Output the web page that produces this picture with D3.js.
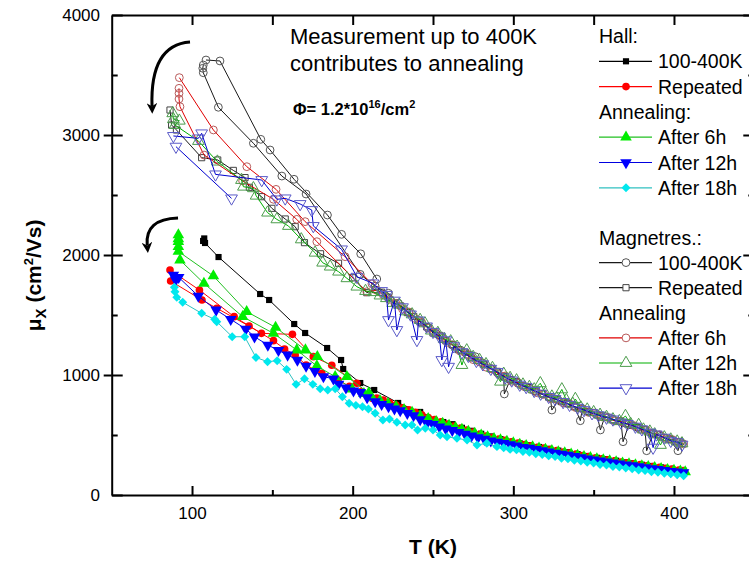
<!DOCTYPE html>
<html>
<head>
<meta charset="utf-8">
<script src="https://d3js.org/d3.v7.min.js"></script>
<style>
  body { margin: 0; background: #fff; }
  svg { display: block; font-family: "Liberation Sans", Arial, sans-serif; }
  .axis path, .axis line { stroke: #000; stroke-width: 2; }
  .axis text { font-size: 17px; fill: #000; font-family: "Liberation Sans", Arial, sans-serif; }
  .legend text { font-size: 19.5px; fill: #000; }
</style>
</head>
<body>
<div id="chart"></div>
<script>
// ---- data: [T (K), mobility (cm2/Vs)], null = break between sweeps ----
var hallRun = [[106.9,2117],[107.6,2138],[108.1,2100],[116.5,1983],[142.4,1675],[148,1625],[163.6,1425],[170.4,1350],[184.1,1225],[192.8,1125],[194.1,1050],[204.7,933],[213.4,875],[228.3,767],[242,692],[256.4,608],[262,590],[268,560],[274,535],[280,510],[286,488],[292,466],[298,444],[304,430],[310,414],[316,400],[322,385],[328,370],[334,356],[340,340],[346,325],[352,310],[358,298],[364,286],[370,272],[374,264],[380,252],[386,242],[392,230],[398,218],[404,208]];

var hallRep = [[86.3,1875],[104.6,1708],[126.2,1486],[143.2,1347],[162.5,1339],[175.5,1153],[187,1081],[202.6,931],[212,806], null,
  [86.7,1783],[106.2,1625],[115.4,1556],[135.5,1408],[150.7,1286],[157.6,1217],[164.2,1167],[171,1083],[180.8,1014],[190.9,958],[198,905],[205,860],[210,832],[215,808],[219,790],[223,768],[227,750],[231,726],[235,710],[239,688],[243,668],[247,645],[251,628],[255,610],[259,590],[263,574],[267,556],[271,540],[275,525],[279,506],[283,492],[287,478],[291,466],[295,455],[299,444],[303,432],[307,421],[311,410],[315,398],[319,390],[323,378],[327,370],[331,358],[335,350],[339,340],[343,328],[347,320],[351,308],[355,302],[359,293],[363,285],[367,275],[371,268],[375,260],[379,254],[383,244],[387,237],[391,230],[395,222],[399,216],[403,208],[406,204]];

var hallAnn6 = [[91.5,2167],[91.5,2135],[91.5,2111],[91.5,2069],[91.5,2030],[113.3,1825],[134,1528],[152,1397],[170.6,1208],[178,1153],[196.4,986],[210,850], null,
  [92.5,1958],[107.4,1764],[131.5,1486],[150.7,1347],[165.2,1208],[177.7,1075],[189.1,986],[199.7,881],[207,845],[212,812],[217,786],[222,762],[227,736],[232,710],[237,688],[242,660],[247,636],[252,612],[256,596],[260,580],[264,562],[268,546],[272,530],[276,514],[280,498],[284,484],[288,470],[292,458],[296,446],[300,434],[304,422],[308,411],[312,400],[316,390],[320,380],[324,369],[328,359],[332,350],[336,340],[340,330],[344,320],[348,310],[352,301],[356,292],[360,284],[364,275],[368,266],[372,258],[376,250],[380,243],[384,235],[388,227],[392,220],[396,212],[400,204],[404,198],[407,193]];

var hallAnn12 = [[88.4,1833],[89.8,1792],[91.7,1814],[103.9,1658],[115,1542],[124.1,1464],[133.5,1383],[138.9,1319],[147.2,1250],[153.8,1205],[159.5,1167],[165.6,1125],[171,1075],[176.5,1030],[181.8,986],[188,969],[191.2,925],[195.8,894],[200.5,869],[204.7,856],[209,812],[214,778],[218,755],[222.3,736],[226,718],[229.6,703],[234,680],[237.9,661],[242,628],[246.2,597],[250,588],[254,568],[258,552],[262,538],[266,522],[270,508],[274,494],[278,478],[282,465],[286,452],[290,440],[294,430],[298,420],[302,410],[306,398],[310,390],[314,380],[318,370],[322,360],[326,350],[330,341],[334,332],[338,322],[342,312],[346,302],[350,294],[354,284],[358,276],[362,268],[366,260],[370,252],[374,245],[378,236],[382,229],[386,220],[390,213],[394,206],[398,198],[402,192],[406,186]];

var hallAnn18 = [[89,1731],[89.4,1694],[90.5,1647],[94.2,1606],[106,1514],[114.1,1464],[115.4,1444],[125,1319],[132.8,1319],[139.8,1146],[147,1111],[153,1119],[158.9,1047],[164.8,922],[170,969],[175.2,922],[179.8,886],[184.5,875],[189.1,886],[193.6,819],[197.8,764],[202,747],[206.1,736],[209.8,717],[214,681],[218.8,625],[222.9,633],[227.5,606],[232.7,583],[236.9,583],[240.4,542],[245.2,556],[250,542],[254.5,500],[258.7,486],[264.9,472],[271.2,458],[277.4,417],[283.5,431],[289.8,403],[294,394],[298,380],[302,376],[306,362],[310,356],[314,343],[318,338],[322,326],[326,320],[330,307],[334,302],[338,290],[342,284],[346,272],[350,266],[354,254],[358,250],[362,238],[366,234],[370,224],[374,219],[378,208],[382,204],[386,194],[390,190],[394,181],[398,176],[402,168],[406,160]];

var magRun = [[108.7,3625],[117.4,3617],[142.8,2964],[148.6,2875],[163.5,2631],[184.3,2333],[193.1,2172],[205,2010],[215,1800], null,
  [107,3583],[106.7,3556],[107,3519],[116.4,3231],[138.2,2931],[155.9,2658],[171,2508],[204.7,1839],[214,1740],[222.3,1681],[228.5,1597],[235,1520],[241,1455],[247,1395],[252,1345],[256,1306],[262,1250],[267,1208],[272,1170],[276.3,1153],[281,1100],[286,1055],[290,1020],[294,985],[294.4,842],[298,960],[303,930],[308,900],[313,870],[318,840],[323,815],[324,708],[328,790],[333,765],[338,740],[341.7,619],[343,720],[347,695],[352,672],[354.2,542],[357,655],[362,632],[367,612],[368.3,444],[372,590],[377,565],[382,540],[383,369],[387,515],[392,490],[397,468],[402.5,369],[404,440]];

var magRep = [[86.3,3208],[87.3,3083],[90.3,3042],[106,2811],[116,2792],[125.7,2705],[133,2645],[135.7,2564],[143.3,2486],[149.7,2389],[158,2300],[164.2,2236],[170,2103],[180,2010],[191.2,1931],[200,1810],[208.8,1686],[214,1712],[218,1690],[222,1648],[226,1600],[230,1575],[234,1520],[238,1488],[242,1440],[246,1402],[250,1350],[254,1330],[258,1285],[262,1255],[266,1210],[270,1190],[274,1142],[278,1120],[282,1085],[286,1050],[290,1030],[294,990],[298,962],[302,945],[306,910],[310,895],[314,860],[318,845],[322,815],[326,800],[330,778],[334,762],[338,735],[342,722],[346,695],[350,688],[354,660],[358,648],[362,625],[366,618],[370,598],[374,580],[378,560],[382,545],[386,515],[390,505],[394,478],[398,462],[402,445],[405,430]];

var magAnn6 = [[92.1,3478],[113.3,3042],[134.1,2736],[152.3,2547],[170.4,2278],[195.3,1986],[212,1760], null,
  [91.9,3389],[91.9,3347],[91.9,3300],[92.5,3236],[107.5,2833],[131.5,2617],[150.7,2464],[165.2,2297],[177.7,2111],[208.8,1694],[215,1705],[219,1668],[223,1630],[227,1595],[231,1550],[235,1525],[239,1470],[243,1438],[247,1390],[251,1352],[255,1320],[259,1272],[263,1245],[267,1198],[271,1172],[275,1128],[279,1108],[283,1065],[287,1048],[291,1005],[295,992],[299,948],[303,935],[307,902],[311,880],[315,852],[319,838],[323,805],[327,798],[331,768],[335,760],[339,728],[343,718],[347,688],[351,680],[355,652],[359,645],[363,618],[367,612],[371,590],[375,578],[379,548],[383,540],[387,510],[391,500],[395,470],[399,462],[403,440],[406,425]];

var magAnn12 = [[88,3181],[88.4,3131],[92.1,3119],[89.4,3083],[104,2950],[115.8,2778],[130.8,2625],[132,2569],[138.2,2556],[139.9,2494],[147,2353],[152.8,2297],[160,2242],[168,2130],[176.6,2019],[181.3,1936],[186,1903],[191.2,1861],[196.4,1806],[202.6,1736],[208,1700],[213,1690],[217,1662],[221,1640],[225,1600],[229,1585],[233,1530],[237,1505],[242,1458],[245,1430],[249,1370],[253,1350],[257,1300],[261,1280],[265,1235],[268,1083],[271,1205],[275,1150],[279,1125],[283,1090],[287,1058],[292,944],[294,1010],[298,975],[302,955],[306,920],[310,900],[313,880],[316.8,931],[320,845],[324,820],[327,805],[330.2,880],[333,790],[337,760],[338.6,800],[342,728],[346,712],[350,690],[354,668],[358,650],[362,630],[366,615],[369.8,658],[373,592],[378,583],[381,545],[385,528],[388,505],[391.6,417],[394,480],[398,462],[402,445],[405,430]];

var magAnn18 = [[88.4,2992],[103.9,2972],[106,3014],[114.6,2672],[143.4,2625],[152.8,2464],[158,2472],[167.3,2425],[174.5,2375],[175.5,2242],[193.1,2047],[202.6,1819],[212.6,1764],[218,1700],[221,1668],[222.3,1458],[226,1620],[227.5,1375],[231,1565],[236,1505],[240,1292],[241,1455],[246,1405],[250,1360],[254,1320],[255.5,1125],[258,1290],[259.7,1069],[263,1240],[268,1190],[272,1160],[277,1118],[281,1090],[286,1052],[290,1025],[295,980],[299,955],[304,920],[308,900],[313,868],[317,845],[322,818],[326,800],[331,775],[335,752],[340,728],[344,708],[349,682],[353,665],[358,645],[362,630],[367,605],[371,592],[376,570],[380,548],[385,520],[387,395],[389,505],[394,478],[398,452],[402,440],[405,420], null,
  [90,2903],[124.6,2472]];

// curved annotation arrows: start, control, end (data units)
var arrowUpper = [[98.75,3775],[73.8,3750],[75.1,3240]];
var arrowLower = [[91.3,2308],[70.5,2300],[72.1,2080]];

var xMajor = [100, 200, 300, 400];
var xMinor = [150, 250, 350];
var xTop = [100, 150, 200, 250, 300, 350, 400];
var yMajor = [0, 1000, 2000, 3000, 4000];
var yMinor = [500, 1500, 2500, 3500];

var hallLabels = ["100-400K", "Repeated", "After 6h", "After 12h", "After 18h"];
var magLabels = ["100-400K", "Repeated", "After 6h", "After 12h", "After 18h"];

// ---- chart ----
var width = 749, height = 563;
var x = d3.scaleLinear().domain([50, 450]).range([111.7, 754.3]);
var y = d3.scaleLinear().domain([0, 4000]).range([495, 15]);

var svg = d3.select("#chart").append("svg")
  .attr("width", width)
  .attr("height", height);

// axes
svg.append("g").attr("class", "axis")
  .attr("transform", "translate(0,495)")
  .call(d3.axisBottom(x).tickValues(xMajor).tickSize(-9).tickSizeOuter(0).tickPadding(12).tickFormat(d3.format("d")));
svg.append("g").attr("class", "axis")
  .attr("transform", "translate(0,495)")
  .call(d3.axisBottom(x).tickValues(xMinor).tickSize(-5).tickSizeOuter(0).tickFormat(""))
  .select(".domain").remove();
svg.append("g").attr("class", "axis")
  .attr("transform", "translate(0,15)")
  .call(d3.axisTop(x).tickValues(xTop).tickSize(-10).tickSizeOuter(0).tickFormat(""));

svg.append("g").attr("class", "axis")
  .attr("transform", "translate(" + x(50) + ",0)")
  .call(d3.axisLeft(y).tickValues(yMajor).tickSize(-11).tickSizeOuter(0).tickPadding(11.7).tickFormat(d3.format("d")));
svg.append("g").attr("class", "axis")
  .attr("transform", "translate(" + x(50) + ",0)")
  .call(d3.axisLeft(y).tickValues([1000, 2000, 3000]).tickSize(8).tickFormat(""))
  .select(".domain").remove();
svg.append("g").attr("class", "axis")
  .attr("transform", "translate(" + x(50) + ",0)")
  .call(d3.axisLeft(y).tickValues(yMinor).tickSize(-6).tickFormat(""))
  .select(".domain").remove();

svg.append("g").attr("class", "axis")
  .attr("transform", "translate(" + x(450) + ",0)")
  .call(d3.axisRight(y).tickValues(yMajor).tickSize(-11).tickSizeOuter(0).tickFormat(""));
svg.append("g").attr("class", "axis")
  .attr("transform", "translate(" + x(450) + ",0)")
  .call(d3.axisRight(y).tickValues(yMinor).tickSize(-6).tickFormat(""))
  .select(".domain").remove();

// axis titles
svg.append("text")
  .attr("x", x(250))
  .attr("y", 554)
  .attr("text-anchor", "middle")
  .style("font-size", "21px")
  .style("font-weight", "bold")
  .text("T (K)");

var yTitle = svg.append("text")
  .attr("transform", "translate(41," + y(1830) + ") rotate(-90)")
  .attr("text-anchor", "middle")
  .style("font-size", "21px")
  .style("font-weight", "bold");
yTitle.append("tspan").text("\u03bc");
yTitle.append("tspan").attr("dy", 5).style("font-size", "15px").text("X");
yTitle.append("tspan").attr("dy", -5).text(" (cm");
yTitle.append("tspan").attr("dy", -8).style("font-size", "13px").text("2");
yTitle.append("tspan").attr("dy", 8).text("/Vs)");

// series styles
var tri = d3.symbolTriangle;
var series = [
  { data: magRun,   line: "#1a1a1a", sym: d3.symbolCircle, size: 48, fill: "none", stroke: "#555", rot: 0 },
  { data: magRep,   line: "#1a1a1a", sym: d3.symbolSquare, size: 38, fill: "none", stroke: "#444", rot: 0 },
  { data: magAnn6,  line: "#e00000", sym: d3.symbolCircle, size: 48, fill: "none", stroke: "#b85a5a", rot: 0 },
  { data: magAnn12, line: "#00b000", sym: tri,            size: 60, fill: "none", stroke: "#4c9c4c", rot: 0 },
  { data: magAnn18, line: "#0000d0", sym: tri,            size: 60, fill: "none", stroke: "#5a5ac8", rot: 180 },
  { data: hallRun,  line: "#000",    sym: d3.symbolSquare, size: 38, fill: "#000", stroke: "none", rot: 0 },
  { data: hallRep,  line: "#ff0000", sym: d3.symbolCircle, size: 46, fill: "#ff0000", stroke: "none", rot: 0 },
  { data: hallAnn6, line: "#22c022", sym: tri,            size: 58, fill: "#00ee00", stroke: "none", rot: 0 },
  { data: hallAnn12,line: "#0000e0", sym: tri,            size: 58, fill: "#0000ff", stroke: "none", rot: 180 },
  { data: hallAnn18,line: "#30c0c0", sym: d3.symbolSquare, size: 40, fill: "#00e8ee", stroke: "none", rot: 45 }
];

var line = d3.line()
  .defined(function(d) { return d != null; })
  .x(function(d) { return x(d[0]); })
  .y(function(d) { return y(d[1]); });

series.forEach(function(s) {
  var g = svg.append("g");
  g.append("path")
    .attr("d", line(s.data))
    .attr("fill", "none")
    .attr("stroke", s.line)
    .attr("stroke-width", 1);
  g.selectAll("path.pt")
    .data(s.data.filter(function(d) { return d != null; }))
    .enter().append("path")
    .attr("class", "pt")
    .attr("d", d3.symbol().type(s.sym).size(s.size))
    .attr("transform", function(d) { return "translate(" + x(d[0]) + "," + y(d[1]) + ") rotate(" + s.rot + ")"; })
    .attr("fill", s.fill)
    .attr("stroke", s.stroke)
    .attr("stroke-width", 1);
});

// arrows
var defs = svg.append("defs");
defs.append("marker")
  .attr("id", "arrowhead")
  .attr("viewBox", "0 -5 10 10")
  .attr("refX", 3)
  .attr("refY", 0)
  .attr("markerWidth", 3.6)
  .attr("markerHeight", 3.6)
  .attr("orient", "auto")
  .append("path")
  .attr("d", "M0,-5L10,0L0,5L3,0Z")
  .attr("fill", "#000");

[arrowUpper, arrowLower].forEach(function(a) {
  svg.append("path")
    .attr("d", "M" + x(a[0][0]) + "," + y(a[0][1]) + "Q" + x(a[1][0]) + "," + y(a[1][1]) + " " + x(a[2][0]) + "," + y(a[2][1]))
    .attr("fill", "none")
    .attr("stroke", "#000")
    .attr("stroke-width", 3)
    .attr("marker-end", "url(#arrowhead)");
});

// annotation text
svg.append("text").attr("x", 290).attr("y", 44)
  .style("font-size", "22px").text("Measurement up to 400K");
svg.append("text").attr("x", 290).attr("y", 71)
  .style("font-size", "22px").text("contributes to annealing");

var phi = svg.append("text").attr("x", 293).attr("y", 115)
  .style("font-size", "16.5px").style("font-weight", "bold");
phi.append("tspan").text("\u03a6= 1.2*10");
phi.append("tspan").attr("dy", -7).style("font-size", "11px").text("16");
phi.append("tspan").attr("dy", 7).text("/cm");
phi.append("tspan").attr("dy", -7).style("font-size", "11px").text("2");

// legends
function drawLegend(top, step, header1, header2, labels, styles) {
  var lg = svg.append("g").attr("class", "legend");
  var rows = [
    { head: header1 }, { i: 0 }, { i: 1 }, { head: header2 }, { i: 2 }, { i: 3 }, { i: 4 }
  ];
  rows.forEach(function(r, k) {
    var cy = top + k * step;
    if (r.head) {
      lg.append("text").attr("x", 599).attr("y", cy + 7).text(r.head);
      return;
    }
    var s = styles[r.i];
    lg.append("line")
      .attr("x1", 599).attr("x2", 652).attr("y1", cy).attr("y2", cy)
      .attr("stroke", s.line).attr("stroke-width", 1.2);
    lg.append("path")
      .attr("d", d3.symbol().type(s.sym).size(s.size)())
      .attr("transform", "translate(626," + cy + ") rotate(" + s.rot + ")")
      .attr("fill", s.fill === "none" ? "#fff" : s.fill)
      .attr("stroke", s.stroke)
      .attr("stroke-width", 1);
    lg.append("text").attr("x", 658).attr("y", cy + 7).text(labels[r.i]);
  });
}

drawLegend(36, 25.3, "Hall:", "Annealing:", hallLabels, series.slice(5));
drawLegend(237.5, 25.1, "Magnetres.:", "Annealing", magLabels, series.slice(0, 5));
</script>
</body>
</html>
